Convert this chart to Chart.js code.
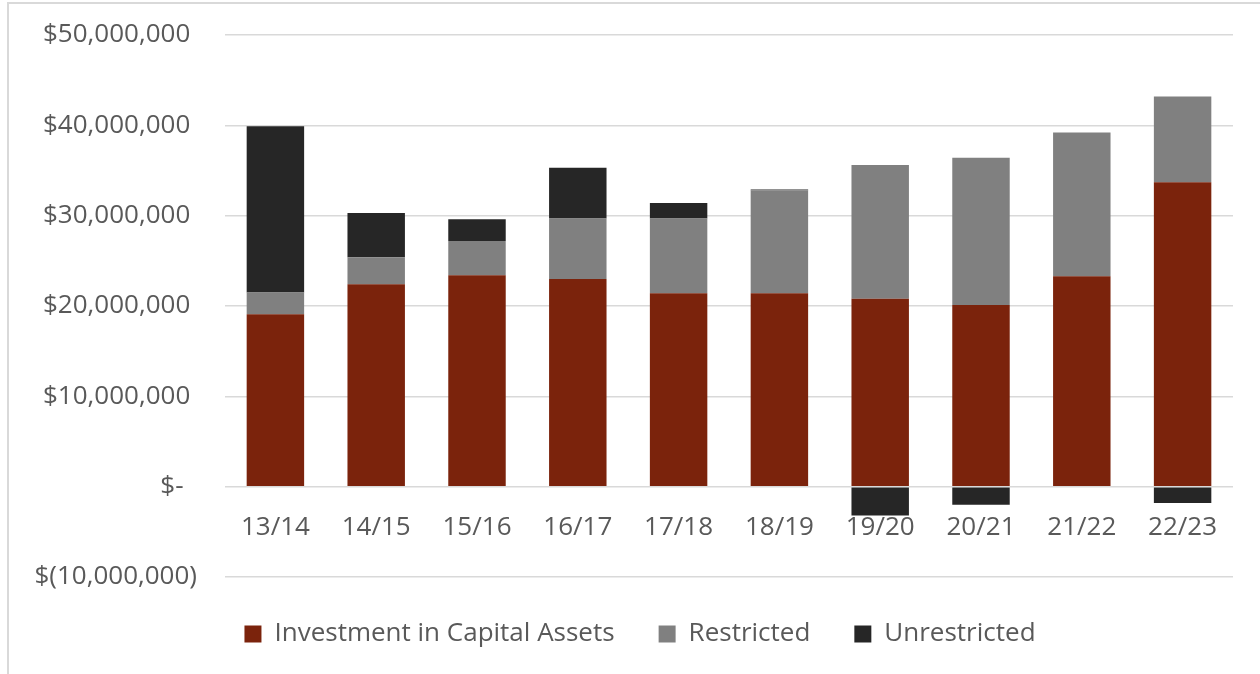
<!DOCTYPE html>
<html>
<head>
<meta charset="utf-8">
<script src="https://cdn.jsdelivr.net/npm/chart.js@4.4.1/dist/chart.umd.min.js"></script>
<style>
  html, body { margin: 0; padding: 0; background: #fff; }
  #frame { position: absolute; left: 7px; top: 2px; width: 1300px; height: 700px;
           border-left: 2px solid #d9d9d9; border-top: 2px solid #d9d9d9; }
  #wrap { position: absolute; left: 0; top: 0; width: 1260px; height: 674px; }
</style>
</head>
<body>
<div id="frame"></div>
<div id="wrap"><canvas id="netPositionChart" width="1260" height="674"></canvas></div>
<script>
// 年度
const years = ['13/14', '14/15', '15/16', '16/17', '17/18', '18/19', '19/20', '20/21', '21/22', '22/23'];

// 各区分 (ドル)
const investmentInCapitalAssets = [19100000, 22400000, 23400000, 23000000, 21400000, 21400000, 20800000, 20100000, 23300000, 33700000];
const restricted = [2400000, 3000000, 3800000, 6700000, 8300000, 11400000, 14800000, 16300000, 15900000, 9500000];
const unrestricted = [18400000, 4900000, 2400000, 5600000, 1700000, 100000, -3200000, -2000000, 0, -1800000];

// y軸目盛
const yTicks = [-10000000, 0, 10000000, 20000000, 30000000, 40000000, 50000000];

const textColor = '#595959';
const gridColor = '#d9d9d9';
const fontSize = 26;

function money(v) {
    if (v === 0) return '$-  ';
    const s = Math.abs(v).toLocaleString('en-US');
    return v < 0 ? '$(' + s + ')' : '$' + s + ' ';
}

new Chart(document.getElementById('netPositionChart').getContext('2d'), {
    type: 'bar',
    data: {
        labels: years,
        datasets: [
            { label: 'Investment in Capital Assets', data: investmentInCapitalAssets, backgroundColor: '#7b230c' },
            { label: 'Restricted', data: restricted, backgroundColor: '#808080' },
            { label: 'Unrestricted', data: unrestricted, backgroundColor: '#262626' }
        ]
    },
    options: {
        responsive: false,
        animation: false,
        layout: { padding: { left: 20, right: 0, top: 35, bottom: 17 } },
        datasets: { bar: { categoryPercentage: 1, barPercentage: 0.57 } },
        plugins: {
            legend: {
                position: 'bottom',
                labels: {
                    color: textColor,
                    font: { family: 'Open Sans', size: fontSize },
                    boxWidth: 17,
                    boxHeight: 17,
                    padding: 44
                }
            },
            tooltip: { enabled: false }
        },
        scales: {
            x: {
                stacked: true,
                position: { y: 0 },
                grid: { display: false },
                border: { display: false },
                ticks: { color: textColor, font: { family: 'Open Sans', size: fontSize }, padding: 17 }
            },
            y: {
                stacked: true,
                min: -10000000,
                max: 50000000,
                afterBuildTicks: (scale) => { scale.ticks = yTicks.map(v => ({ value: v })); },
                afterFit: (scale) => {
                    scale.width = 205;
                    scale.paddingTop = 0;
                    scale.paddingBottom = 0;
                },
                grid: { color: gridColor, lineWidth: 1.5, drawTicks: false },
                border: { display: false },
                ticks: {
                    color: textColor,
                    font: { family: 'Open Sans', size: fontSize },
                    padding: 28,
                    callback: (v) => money(v)
                }
            },
            // 右側の余白用
            yRight: {
                position: 'right',
                grid: { display: false },
                border: { display: false },
                ticks: { display: false },
                afterFit: (scale) => { scale.width = 27; }
            }
        }
    }
});
</script>
</body>
</html>
